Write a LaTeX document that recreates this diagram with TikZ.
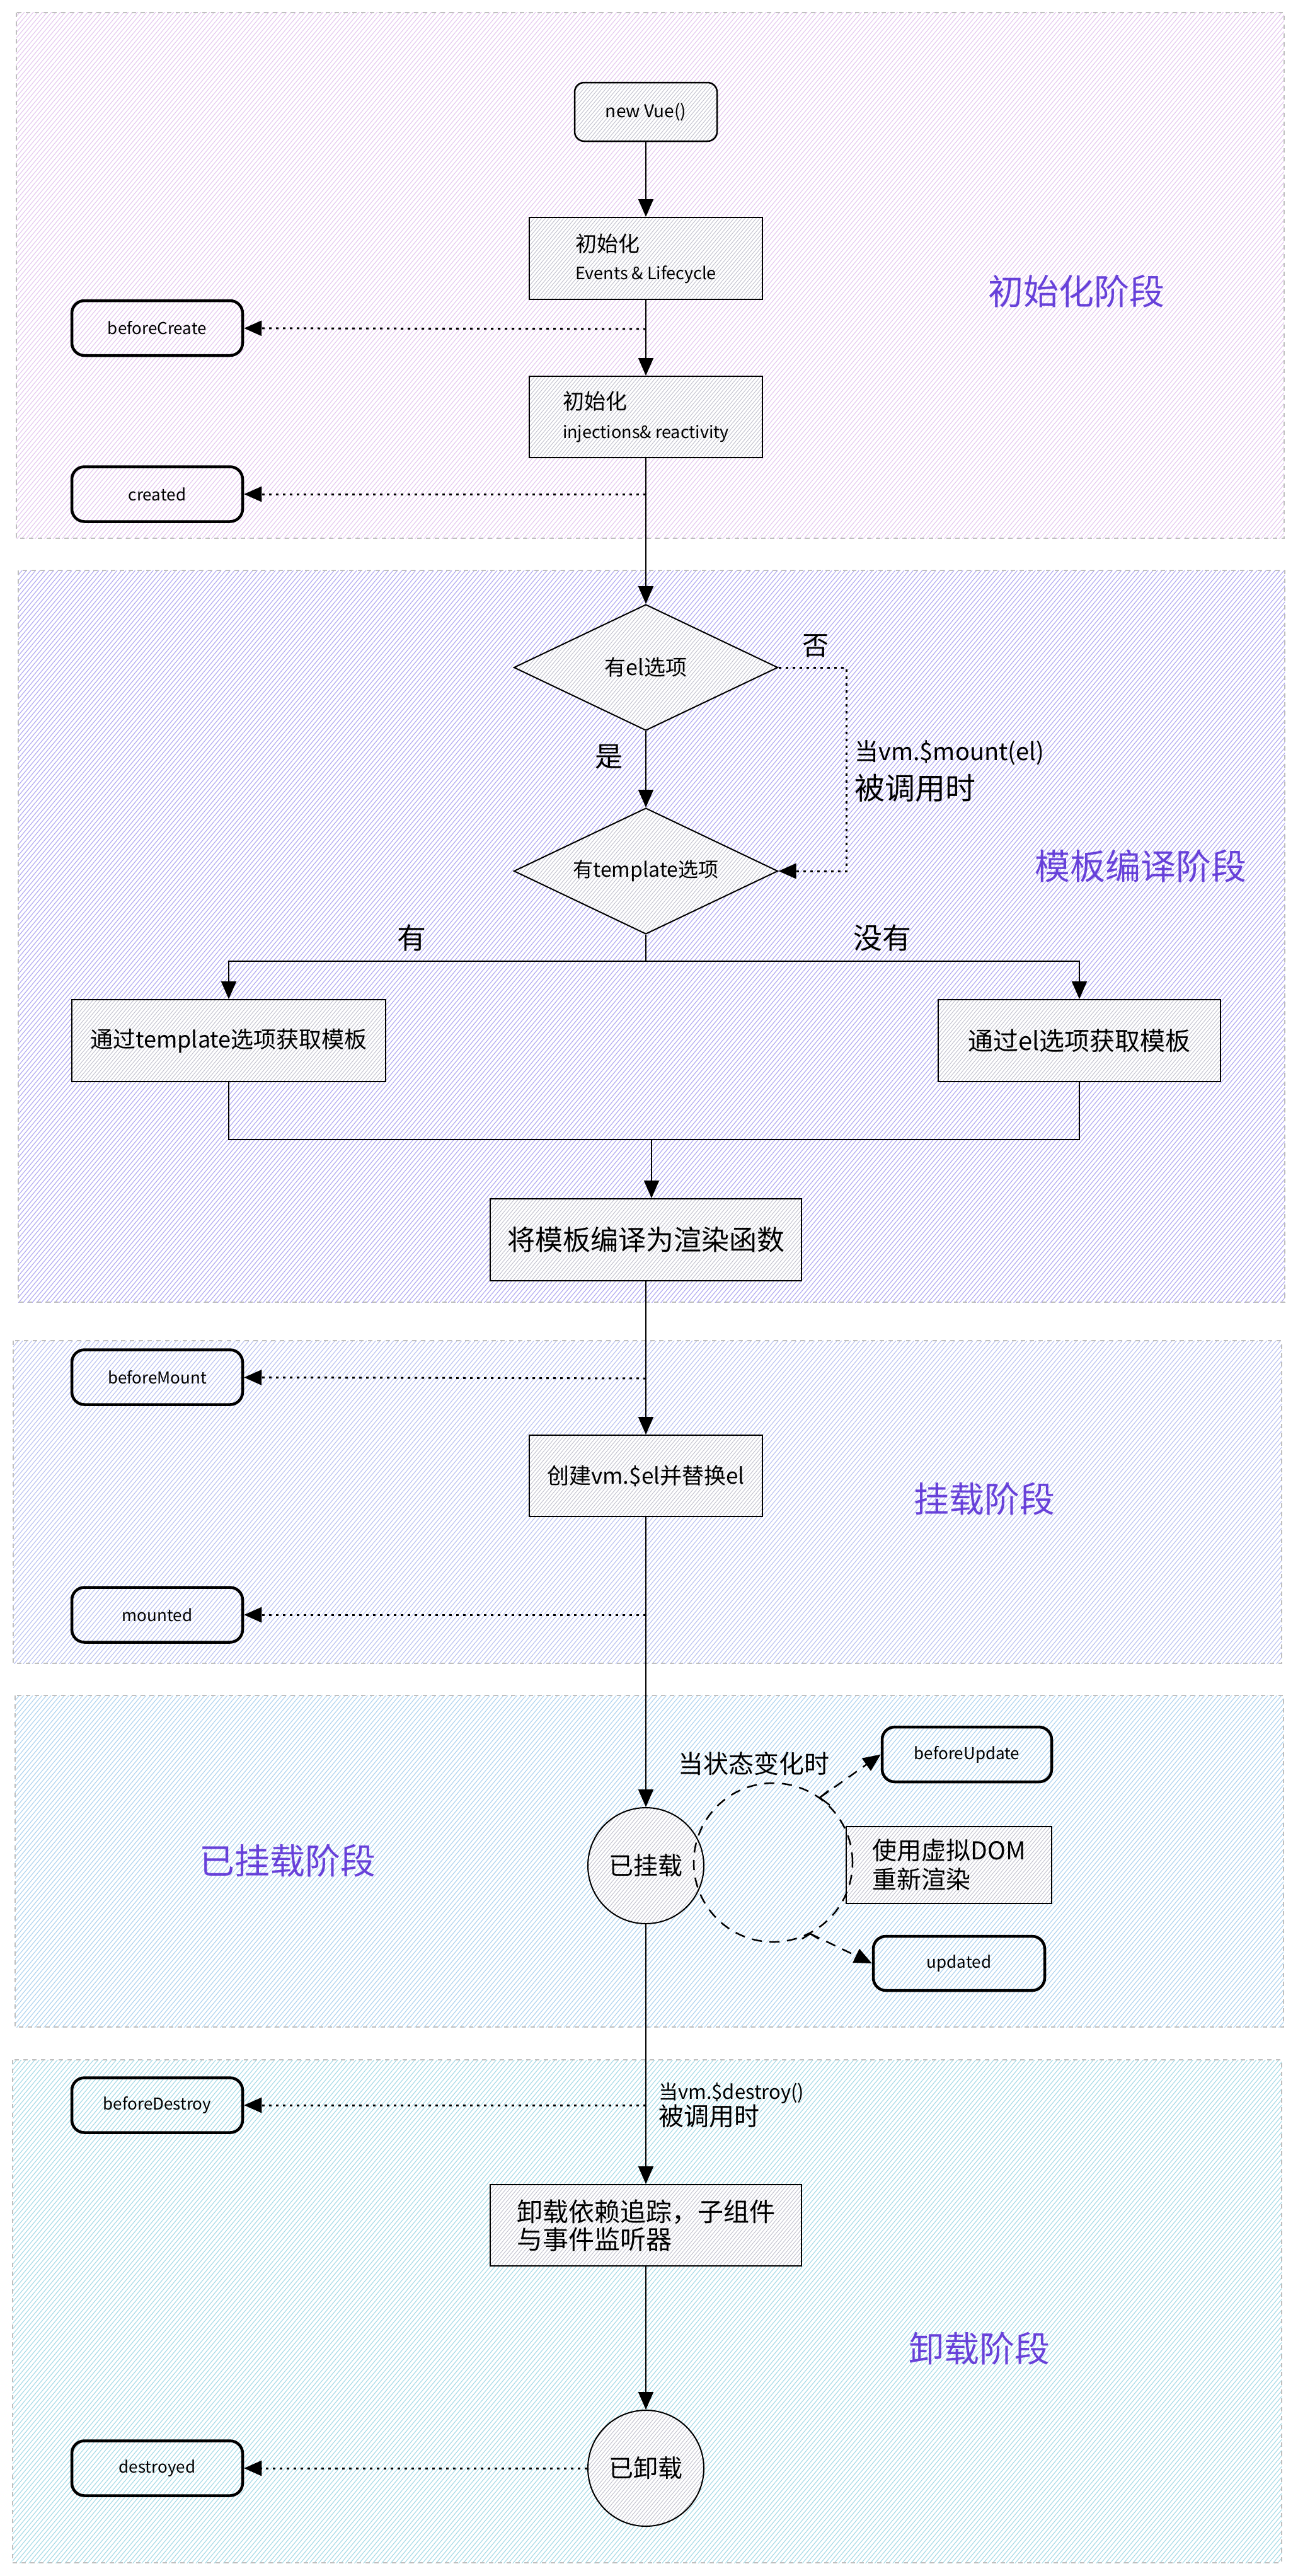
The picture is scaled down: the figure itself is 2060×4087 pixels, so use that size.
\documentclass[tikz,border=0pt]{standalone}
\usepackage{fontspec}
\setmainfont{Noto Sans CJK SC}
\usetikzlibrary{arrows.meta,shapes.geometric,patterns.meta}
\definecolor{ttl}{HTML}{6741D9}
\definecolor{hA}{HTML}{E4C8EE}
\definecolor{hB}{HTML}{B0A8F0}
\definecolor{hC}{HTML}{BAC2F0}
\definecolor{hD}{HTML}{ADD2EE}
\definecolor{hE}{HTML}{A6DAE6}
\definecolor{hN}{HTML}{C2C2CE}
\tikzset{
  sec/.style={draw=black!25, line width=2pt, dash pattern=on 7pt off 7pt,
    pattern={Lines[angle=50,distance=5.5pt,line width=1.15pt]}},
  proc/.style={draw, line width=2pt, preaction={fill=white},
    pattern={Lines[angle=50,distance=4.5pt,line width=1pt]}, pattern color=hN,
    align=left, inner sep=0pt},
  hook/.style={draw, line width=4.5pt, rounded corners=20pt, minimum width=271pt,
    minimum height=87pt, inner sep=0pt, font=\fontsize{26}{30}\selectfont},
  ttlabel/.style={text=ttl, font=\fontsize{56}{60}\selectfont},
  con/.style={line width=2pt},
  dotl/.style={line width=3pt, dash pattern=on 4pt off 7pt},
  dshl/.style={line width=2.5pt, dash pattern=on 16pt off 12pt},
  >={Triangle[length=28pt,width=24pt]}
}
\newcommand\fz[1]{\fontsize{#1}{#1}\selectfont}
\begin{document}
\begin{tikzpicture}[x=1pt,y=-1pt]
\useasboundingbox (0,0) rectangle (2060,4087);
% sections
\path[sec, pattern color=hA] (26,20) rectangle (2038,854);
\path[sec, pattern color=hB] (29,905) rectangle (2039,2066);
\path[sec, pattern color=hC] (21,2127) rectangle (2034,2639);
\path[sec, pattern color=hD] (24,2690) rectangle (2037,3216);
\path[sec, pattern color=hE] (20,3268) rectangle (2034,4066);
% titles
\node[ttlabel] (t1) at (1708,462) {初始化阶段};
\node[ttlabel] (t2) at (1810,1374) {模板编译阶段};
\node[ttlabel] (t3) at (1562,2378) {挂载阶段};
\node[ttlabel] (t4) at (456,2952) {已挂载阶段};
\node[ttlabel] (t5) at (1554,3726) {卸载阶段};
% section 1
\node[proc, rounded corners=15pt, line width=2.5pt, minimum width=226pt, minimum height=93pt,
  font=\fontsize{28}{32}\selectfont, align=center] (vue) at (1025,177.5) {new Vue()};
\node[proc, minimum width=370pt, minimum height=130pt, font=\fontsize{27}{44}\selectfont]
  (ev) at (1025,410) {{\fz{34}初始化}\\Events \& Lifecycle};
\node[proc, minimum width=370pt, minimum height=129pt, font=\fontsize{27}{46}\selectfont]
  (inj) at (1025,661.5) {{\fz{34}初始化}\\injections\& reactivity};
\node[hook] (bc) at (249.5,520.5) {beforeCreate};
\node[hook] (cr) at (249.5,784) {created};
% section 2
\node[proc, shape=diamond, aspect=2.095, minimum width=419pt, minimum height=200pt,
  font=\fontsize{34}{36}\selectfont, align=center] (d1) at (1025,1059) {有el选项};
\node[proc, shape=diamond, aspect=2.095, minimum width=419pt, minimum height=200pt,
  font=\fontsize{32}{36}\selectfont, align=center] (d2) at (1025,1382) {有template选项};
\node[font=\fontsize{42}{44}\selectfont] (no) at (1294,1025) {否};
\node[font=\fontsize{44}{46}\selectfont] (yes) at (966,1201) {是};
\node[font=\fontsize{38}{62}\selectfont, align=left, anchor=west, inner sep=0pt]
  (mlab) at (1356,1224) {当vm.\$mount(el)\\{\fz{48}被调用时}};
\node[font=\fontsize{46}{48}\selectfont] (you) at (653,1488) {有};
\node[font=\fontsize{46}{48}\selectfont] (meiyou) at (1400,1488) {没有};
\node[proc, minimum width=498pt, minimum height=130pt, font=\fontsize{36}{40}\selectfont,
  align=center] (tplL) at (363,1651) {通过template选项获取模板};
\node[proc, minimum width=448pt, minimum height=130pt, font=\fontsize{40}{44}\selectfont,
  align=center] (tplR) at (1713,1651) {通过el选项获取模板};
\node[proc, minimum width=494pt, minimum height=130pt, font=\fontsize{44}{50}\selectfont,
  align=center] (comp) at (1025,1967) {将模板编译为渲染函数};
% section 3
\node[proc, minimum width=370pt, minimum height=129pt, font=\fontsize{35}{40}\selectfont,
  align=center] (mnt) at (1025,2341.5) {创建vm.\$el并替换el};
\node[hook] (bm) at (249.5,2185) {beforeMount};
\node[hook] (md) at (249.5,2562) {mounted};
% section 4
\node[proc, circle, minimum size=184pt, line width=2pt, font=\fontsize{39}{42}\selectfont,
  align=center] (m1) at (1025,2960) {已挂载};
\node[font=\fontsize{40}{44}\selectfont] (chg) at (1196,2798) {当状态变化时};
\node[hook, minimum width=269pt] (bu) at (1534.5,2783.5) {beforeUpdate};
\node[proc, minimum width=326pt, minimum height=122pt, font=\fontsize{39}{46}\selectfont]
  (vdom) at (1506,2959) {使用虚拟DOM\\重新渲染};
\node[hook, minimum width=272pt, minimum height=86pt] (ud) at (1522,3115) {updated};
% section 5
\node[hook] (bd) at (249.5,3340) {beforeDestroy};
\node[font=\fontsize{31}{42}\selectfont, align=left, anchor=west, inner sep=0pt]
  (dlab) at (1045,3340) {当vm.\$destroy()\\{\fz{40}被调用时}};
\node[proc, minimum width=494pt, minimum height=129pt, font=\fontsize{41}{44}\selectfont]
  (unm) at (1025,3530.5) {卸载依赖追踪，子组件\\与事件监听器};
\node[proc, circle, minimum size=184pt, line width=2pt, font=\fontsize{39}{42}\selectfont,
  align=center] (m2) at (1025,3916) {已卸载};
\node[hook] (ds) at (249.5,3916) {destroyed};
% connectors
\coordinate (p1) at (1025,522);
\coordinate (p2) at (1025,784);
\coordinate (p3) at (1025,2187);
\coordinate (p4) at (1025,2562);
\coordinate (p5) at (1025,3340);
\coordinate (c1) at (1343,1220);
\coordinate (br) at (1025,1525);
\coordinate (mg) at (1034,1808);
\coordinate (ca) at (1301,2852);
\coordinate (cb) at (1286,3068);
\draw[con,->] (vue) -- (ev);
\draw[con,->] (ev) -- (inj);
\draw[con,->] (inj) -- (d1);
\draw[dotl,->] (p1) -- (bc);
\draw[dotl,->] (p2) -- (cr);
\draw[con,->] (d1) -- (d2);
\draw[dotl,->] (d1.east) -| (c1) |- (d2.east);
\draw[con] (d2.south) -- (br);
\draw[con,->] (br) -| (tplL.north);
\draw[con,->] (br) -| (tplR.north);
\draw[con] (tplL.south) |- (mg);
\draw[con] (tplR.south) |- (mg);
\draw[con,->] (mg) -- (mg |- comp.north);
\draw[con,->] (comp) -- (mnt);
\draw[dotl,->] (p3) -- (bm);
\draw[con,->] (mnt) -- (m1);
\draw[dotl,->] (p4) -- (md);
\draw[con,->] (m1) -- (unm);
\draw[dotl,->] (p5) -- (bd);
\draw[con,->] (unm) -- (m2);
\draw[dotl,->] (m2) -- (ds);
% update cycle
\draw[dshl] (1227,2955) circle[radius=126pt];
\draw[dshl,->] (ca) -- (bu.west);
\draw[dshl,->] (cb) -- (ud.west);
\draw[line width=2.5pt] (1315,2841) -- (ca) -- (1317,2864);
\draw[line width=2.5pt] (1273,3076) -- (cb) -- (1299,3076);
\end{tikzpicture}
\end{document}
